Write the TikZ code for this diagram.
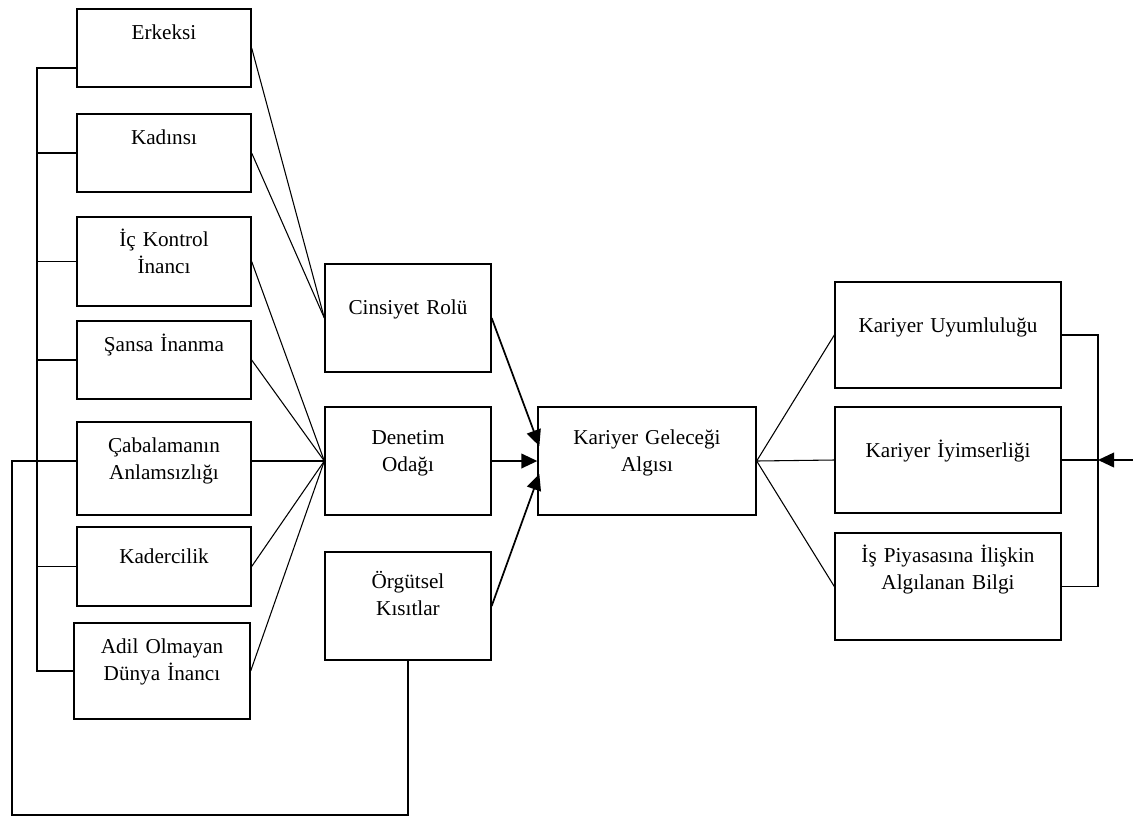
\documentclass[tikz,border=0pt]{standalone}
\usepackage{fontspec}
\setmainfont{Liberation Serif}
\usetikzlibrary{arrows.meta,calc}

\tikzset{
  kutu/.style={draw, line width=1pt, inner sep=0pt, align=center, anchor=base,
    font=\fontsize{15.9}{20.3}\selectfont},
  ok/.style={line width=1.3pt, -{Triangle[length=12pt,width=11pt]}},
  bag/.style={line width=1.1pt},
}

\begin{document}
\begin{tikzpicture}[x=0.75pt,y=0.75pt,yscale=-1,xscale=1,line width=0.8pt]
\useasboundingbox (0,0) rectangle (1133,819);

% Left column
\node [kutu, text width=130.5pt, text height=22.5pt, text depth=36pt] (erk) at (164,39) {Erkeksi};
\node [kutu, text width=130.5pt, text height=22.5pt, text depth=36pt] (kad) at (164,144) {Kadınsı};
\node [kutu, text width=130.5pt, text height=21.75pt, text depth=45pt] (ick) at (164,246) {İç Kontrol\\İnancı};
\node [kutu, text width=130.5pt, text height=22.5pt, text depth=36pt] (san) at (164,351) {Şansa İnanma};
\node [kutu, text width=130.5pt, text height=22.5pt, text depth=47.25pt] (cab) at (164,452) {Çabalamanın\\Anlamsızlığı};
\node [kutu, text width=130.5pt, text height=27pt, text depth=32.25pt] (kdr) at (164,563) {Kadercilik};
\node [kutu, text width=132pt, text height=22.5pt, text depth=49.5pt] (adl) at (162,653) {Adil Olmayan\\Dünya İnancı};

% Middle column
\node [kutu, text width=124.5pt, text height=37.5pt, text depth=43.5pt] (cin) at (408,314) {Cinsiyet Rolü};
\node [kutu, text width=124.5pt, text height=27.75pt, text depth=53.25pt] (den) at (408,444) {Denetim\\Odağı};
\node [kutu, text width=124.5pt, text height=27pt, text depth=54pt] (org) at (408,588) {Örgütsel\\Kısıtlar};

% Centre
\node [kutu, text width=163.5pt, text height=27.75pt, text depth=53.25pt] (kga) at (647,444) {Kariyer Geleceği\\Algısı};

% Right column
\node [kutu, text width=169.5pt, text height=37.5pt, text depth=42pt] (uyu) at (948,332) {Kariyer Uyumluluğu};
\node [kutu, text width=169.5pt, text height=37.5pt, text depth=42pt] (iyi) at (948,457) {Kariyer İyimserliği};
\node [kutu, text width=169.5pt, text height=21.75pt, text depth=58.5pt] (isp) at (948,562) {İş Piyasasına İlişkin\\Algılanan Bilgi};

\coordinate (bus) at (37,0);
\coordinate (loop) at (12,815);
\coordinate (rbus) at (1098,0);
\coordinate (fb) at (1133,0);
\coordinate (erkin) at ($(erk.west)+(0,20)$);

% Left bracket
\draw [bag] (erkin) -| (bus |- adl.west) -- (adl.west);
\foreach \n in {kad,ick,san,kdr}
  \draw [bag] (\n.west) -- (bus |- \n.west);
\draw [bag] (den.west -| cab.west) -- (den.west -| loop) -- (loop) -| (org.south);

% Into gender role and locus of control
\draw (erk.east) -- (cin.west);
\draw (kad.east) -- (cin.west);
\foreach \n in {ick,san,kdr,adl}
  \draw (\n.east) -- (den.west);
\draw (den.west -| cab.east) -- (den.west);

% Arrows into centre
\draw [ok] (cin.east) -- ($(kga.west)+(2,-15)$);
\draw [ok] (den.east) -- (kga.west);
\draw [ok] (org.east) -- ($(kga.west)+(2,13)$);

% Out of centre
\draw (kga.east) -- (uyu.west);
\draw (kga.east) -- (iyi.west);
\draw (kga.east) -- (isp.west);

% Right bracket
\draw [bag] (uyu.east) -| (rbus |- isp.east) -- (isp.east);
\draw [bag] (iyi.east) -- (rbus |- iyi.east);
\draw [ok] (fb |- iyi.east) -- (rbus |- iyi.east);

\end{tikzpicture}
\end{document}
